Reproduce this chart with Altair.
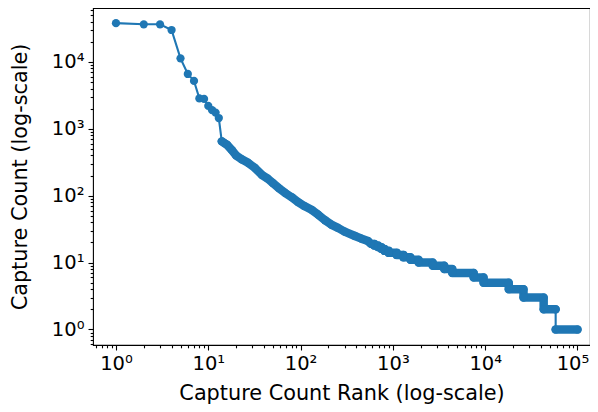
import altair as alt
import pandas as pd

# ---- data ----
# individual top-ranked points
head_ranks = [1, 2, 3, 4, 5, 6, 7, 8, 9, 10, 11, 12, 13]
head_counts = [38000, 36500, 36500, 30000, 11300, 6600, 5200, 2850, 2800, 2200, 1900, 1750, 1450]

# smooth (dense) part of the curve
mid_ranks = [14, 15, 16, 18, 20, 23, 27, 32, 38, 44, 50, 58, 68, 80, 94, 110,
             133, 155, 184, 215, 254, 300, 388, 450, 537]
mid_counts = [650, 610, 575, 480, 400, 350, 310, 260, 205, 180, 155, 130, 110, 95, 80, 70,
              61, 52, 43, 37, 33, 29, 25, 23, 21]

# plateaus of equal capture count (first rank, last rank)
plat_counts = [19, 18, 17, 16, 15, 14, 13, 12, 11, 10, 9, 8, 7, 6, 5, 4, 3, 2, 1]
plat_first = [580, 630, 690, 750, 811, 901, 1101, 1301, 1551, 1901, 2701, 3601, 4401, 7501,
              9601, 18001, 26001, 43001, 58001]
plat_last = [629, 689, 749, 810, 900, 1100, 1300, 1550, 1900, 2700, 3600, 4400, 7500, 9600,
             18000, 26000, 43000, 58000, 100000]

rows = []
for r, c in zip(head_ranks, head_counts):
    rows.append({"rank": r, "count": c, "band": "head"})
for r, c in zip(mid_ranks, mid_counts):
    rows.append({"rank": r, "count": c, "band": "A"})
for c, f, l in zip(plat_counts, plat_first, plat_last):
    b = "B" if c == 1 else "A"
    rows.append({"rank": f, "count": c, "band": b})
    rows.append({"rank": l, "count": c, "band": b})
df = pd.DataFrame(rows)

BLUE = "#1f77b4"
FONT = "DejaVu Sans"

major = [1, 10, 100, 1000, 10000, 100000]
x_ticks = [m * k for m in [0.1, 1, 10, 100, 1000, 10000] for k in range(1, 10)
           if 0.56 < m * k < 136000] + [100000]
y_ticks = [m * k for m in [0.1, 1, 10, 100, 1000, 10000] for k in range(1, 10)
           if 0.58 < m * k < 64000]
x_ticks = sorted(set(round(v, 6) for v in x_ticks))
y_ticks = sorted(set(round(v, 6) for v in y_ticks))

is_major = " || ".join(f"datum.value == {m}" for m in major)
label_expr = ("datum.value == 1 ? '10⁰' : datum.value == 10 ? '10¹' : "
              "datum.value == 100 ? '10²' : datum.value == 1000 ? '10³' : "
              "datum.value == 10000 ? '10⁴' : datum.value == 100000 ? '10⁵' : ''")


def make_axis(values, title_pad, last_shift=0):
    opts = dict(
        values=values,
        labelExpr=label_expr,
        tickSize={"condition": {"test": is_major, "value": 5}, "value": 2.8},
        tickWidth=1.1,
        tickColor="black",
        domain=False,
        grid=False,
        labelOverlap=False,
        labelFlush=False,
        labelBound=False,
        labelFont=FONT,
        labelFontSize=19.5,
        labelColor="black",
        labelPadding=4,
        titleFont=FONT,
        titleFontSize=20.8,
        titleFontWeight="normal",
        titleColor="black",
        titlePadding=title_pad,
    )
    if last_shift:
        opts["labelOffset"] = {"condition": {"test": "datum.value == 100000",
                                             "value": last_shift}, "value": 0}
    return alt.Axis(**opts)


x_enc = alt.X("rank:Q",
              scale=alt.Scale(type="log", domain=[0.5636, 136600], nice=False, zero=False),
              axis=make_axis(x_ticks, 11, last_shift=-5),
              title="Capture Count Rank (log-scale)")
y_enc = alt.Y("count:Q",
              scale=alt.Scale(type="log", domain=[0.5865, 63970], nice=False, zero=False),
              axis=make_axis(y_ticks, 21),
              title="Capture Count (log-scale)")

base = alt.Chart(df)

thin = base.mark_line(color=BLUE, strokeWidth=2.1).encode(
    x=x_enc, y=y_enc, order="rank:Q")

thick = base.transform_filter("datum.band != 'head'").mark_line(
    color=BLUE, strokeWidth=8.5, strokeCap="round", strokeJoin="round").encode(
    x=x_enc, y=y_enc, detail="band:N", order="rank:Q")

pts = base.mark_circle(color=BLUE, size=68, opacity=1).encode(x=x_enc, y=y_enc)

chart = alt.layer(thin, thick, pts).properties(
    width=497,
    height=337,
    background="white",
    padding={"left": 85, "top": 0, "right": 0, "bottom": 59},
    autosize=alt.AutoSizeParams(type="none"),
).configure_view(
    stroke="black", strokeWidth=1.1
)

chart.save("out.html", embed_options={"renderer": "svg", "actions": False})
